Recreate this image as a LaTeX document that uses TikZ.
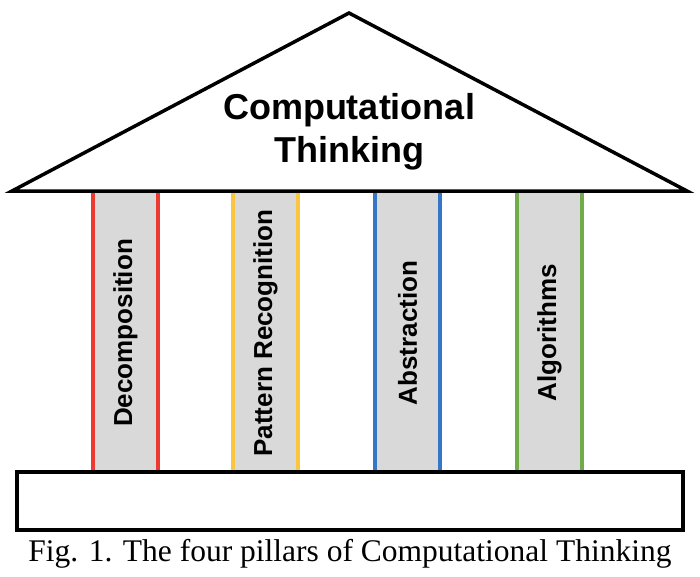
\documentclass[tikz,border=0pt]{standalone}
\usepackage{fontspec}
\setmainfont{Liberation Serif}
\setsansfont{Liberation Sans}
\usetikzlibrary{positioning}
\definecolor{pillarred}{RGB}{234,58,50}
\definecolor{pillaryellow}{RGB}{248,198,64}
\definecolor{pillarblue}{RGB}{52,118,200}
\definecolor{pillargreen}{RGB}{112,172,72}
\definecolor{pillargray}{RGB}{217,217,217}

\begin{document}
\begin{tikzpicture}[x=1pt, y=-1pt]
\useasboundingbox (0,0) rectangle (700,576);
% roof
\draw[line width=3.5, line join=miter] (12,191) -- (349,13) -- (687,191) -- cycle;
\node[font=\sffamily\bfseries\fontsize{36}{43}\selectfont, align=center] (roof) at (349,132) {Computational\\Thinking};
% pillars
\foreach \x/\col/\name/\txt in {93/pillarred/decomp/Decomposition, 233/pillaryellow/pattern/Pattern Recognition, 375/pillarblue/abstr/Abstraction, 517/pillargreen/algo/Algorithms}
{
    \fill[pillargray] (\x,193) rectangle (\x+65,472);
    \draw[line width=3.2, \col] (\x,193) -- (\x,472);
    \draw[line width=3.2, \col] (\x+65,193) -- (\x+65,472);
    \node[rotate=90, font=\sffamily\bfseries\fontsize{26}{30}\selectfont] (\name) at (\x+32.5,333) {\txt};
}
% base
\draw[line width=4] (17,472) rectangle (683,530);
\node[font=\fontsize{31.5}{36}\selectfont] (caption) at (350,554) {Fig. 1. The four pillars of Computational Thinking};
\end{tikzpicture}
\end{document}
